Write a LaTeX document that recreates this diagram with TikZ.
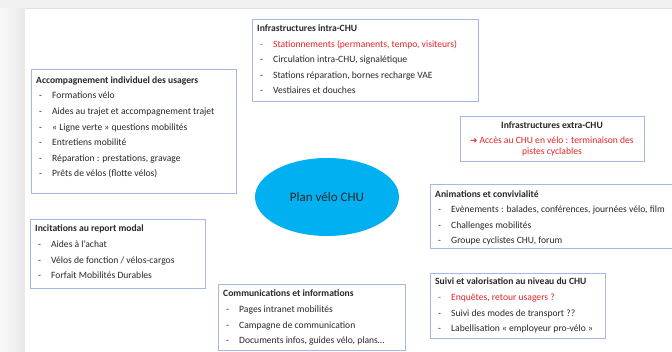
\documentclass[tikz,border=0pt]{standalone}
\usepackage{fontspec}
\setmainfont{Carlito}
\newfontfamily\symfont{DejaVu Sans}
\usetikzlibrary{shapes.geometric}

\definecolor{panelblue}{RGB}{163,185,228}
\definecolor{alertred}{RGB}{226,36,40}
\definecolor{bubble}{RGB}{0,176,240}
\definecolor{inktext}{RGB}{40,40,40}
% lignes d'un cadre : premiere ligne = ligne de base du noeud
\newcommand{\panellines}[1]{\vtop{\baselineskip=15.6pt\lineskiplimit=0pt
  \halign{##\hfil\cr#1\crcr}}}
\newcommand{\centerlines}[1]{\vtop{\baselineskip=11pt\lineskiplimit=0pt
  \halign{\hfil##\hfil\cr#1\crcr}}}
\newcommand{\dashline}[1]{\hspace*{3pt}\makebox[13pt][l]{-}#1}

\begin{document}
\begin{tikzpicture}[x=1pt,y=-1pt,
  panel/.style={draw=panelblue,line width=0.8pt,rectangle,anchor=north west,inner sep=0pt},
  panelbody/.style={anchor=base west,inner sep=0pt,text=inktext,
    font=\fontsize{9.6}{15.6}\selectfont}]
  \useasboundingbox (0,0) rectangle (672,351);
  % fond de page
  \fill[black!6] (0,0) rectangle (672,351);
  \shade[left color=black!2,right color=black!9] (0,8) rectangle (25,351);
  \fill[white] (25,8) rectangle (672,351);
  \draw[black!12] (25,8) -- (672,8);

  % cadres
  \node[panel,minimum width=226,minimum height=82] (intra) at (252,19) {};
  \node[panelbody] (intratext) at (257,31.5) {\panellines{\textbf{Infrastructures intra-CHU}\cr
    \textcolor{alertred}{\dashline{Stationnements (permanents, tempo, visiteurs)}}\cr
    \dashline{Circulation intra-CHU, signalétique}\cr
    \dashline{Stations réparation, bornes recharge VAE}\cr
    \dashline{Vestiaires et douches}}};

  \node[panel,minimum width=205,minimum height=124] (accomp) at (31,69) {};
  \node[panelbody] (accomptext) at (36,83.3) {\panellines{\textbf{Accompagnement individuel des usagers}\cr
    \dashline{Formations vélo}\cr
    \dashline{Aides au trajet et accompagnement trajet}\cr
    \dashline{« Ligne verte » questions mobilités}\cr
    \dashline{Entretiens mobilité}\cr
    \dashline{Réparation : prestations, gravage}\cr
    \dashline{Prêts de vélos (flotte vélos)}}};

  \node[panel,minimum width=184,minimum height=45] (extra) at (460,116) {};
  \node[panelbody,anchor=base] (extratext) at (552,128.2) {\centerlines{\textbf{Infrastructures extra-CHU}\cr
    \noalign{\vskip 4.7pt}
    \textcolor{alertred}{{\symfont\fontsize{8.5}{11}\selectfont ➔} Accès au CHU en vélo : terminaison des}\cr
    \textcolor{alertred}{pistes cyclables}}};

  \node[panel,minimum width=246,minimum height=64] (anim) at (430,184) {};
  \node[panelbody] (animtext) at (435,197.1) {\panellines{\textbf{Animations et convivialité}\cr
    \dashline{Evènements : balades, conférences, journées vélo, film}\cr
    \dashline{Challenges mobilités}\cr
    \dashline{Groupe cyclistes CHU, forum}}};

  \node[panel,minimum width=175,minimum height=69] (incit) at (30,219) {};
  \node[panelbody] (incittext) at (35,231.8) {\panellines{\textbf{Incitations au report modal}\cr
    \dashline{Aides à l’achat}\cr
    \dashline{Vélos de fonction / vélos-cargos}\cr
    \dashline{Forfait Mobilités Durables}}};

  \node[panel,minimum width=187,minimum height=66] (comm) at (218,284) {};
  \node[panelbody] (commtext) at (223,296.9) {\panellines{\textbf{Communications et informations}\cr
    \dashline{Pages intranet mobilités}\cr
    \dashline{Campagne de communication}\cr
    \dashline{Documents infos, guides vélo, plans…}}};

  \node[panel,minimum width=175,minimum height=65] (suivi) at (430,273) {};
  \node[panelbody] (suivitext) at (435,284.8) {\panellines{\textbf{Suivi et valorisation au niveau du CHU}\cr
    \textcolor{alertred}{\dashline{Enquêtes, retour usagers ?}}\cr
    \dashline{Suivi des modes de transport ??}\cr
    \dashline{Labellisation « employeur pro-vélo »}}};

  % bulle centrale
  \node[ellipse,fill=bubble,minimum width=144,minimum height=78,inner sep=0pt,
    text=inktext,font=\fontsize{13}{15}\selectfont] (plan) at (327,197) {Plan vélo CHU};
\end{tikzpicture}
\end{document}
